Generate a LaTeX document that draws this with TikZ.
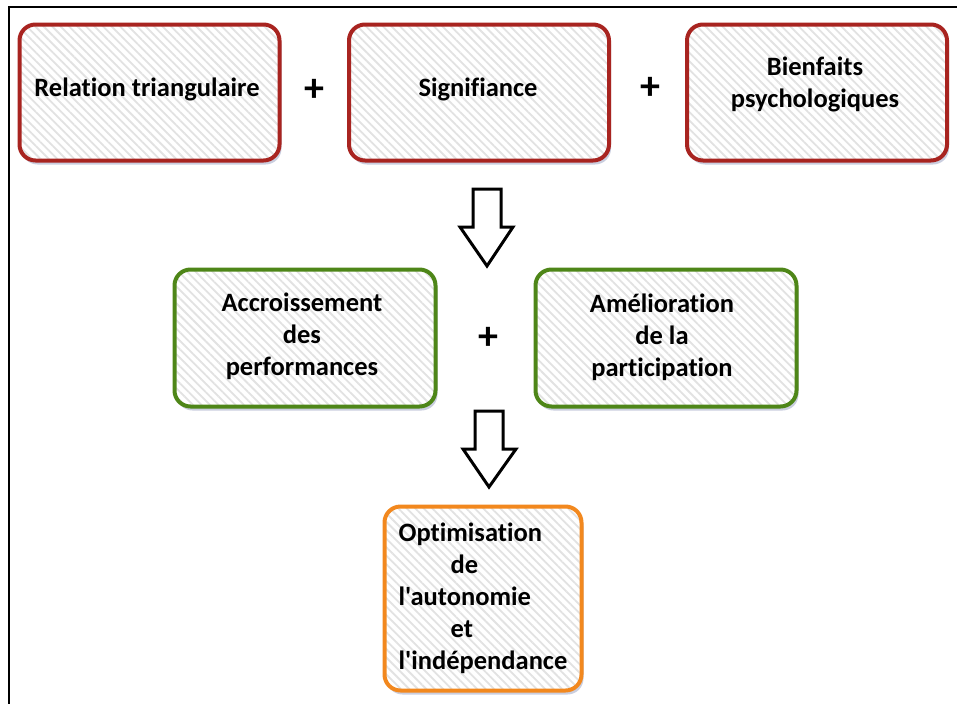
\documentclass[tikz,border=0pt]{standalone}
\usepackage{fontspec}
\setmainfont{Carlito}[Ligatures={CommonOff,TeXOff}]
\usetikzlibrary{patterns.meta,shadows}
\definecolor{boxred}{RGB}{168,36,32}
\definecolor{boxgreen}{RGB}{78,134,24}
\definecolor{boxorange}{RGB}{242,136,30}
\definecolor{stripe}{RGB}{226,226,226}
\definecolor{shadowblue}{RGB}{150,158,192}
\tikzset{
  box/.style={rounded corners=16pt,
    drop shadow={shadow xshift=2pt, shadow yshift=-4pt, opacity=0.5, fill=shadowblue},
    preaction={fill=white},
    pattern={Lines[angle=-45,distance=6pt,line width=1.8pt]}, pattern color=stripe,
    inner sep=0pt},
  redbox/.style={box, postaction={draw=boxred, line width=4pt}, minimum width=260pt, minimum height=136pt},
  greenbox/.style={box, postaction={draw=boxgreen, line width=4pt}, minimum width=261pt, minimum height=137pt},
  orangebox/.style={box, postaction={draw=boxorange, line width=4pt}, minimum width=197pt, minimum height=184pt},
  lbl/.style={font=\fontsize{26.5}{32}\selectfont\bfseries, align=center, inner sep=0pt, text=black},
  plussign/.style={font=\fontsize{40}{40}\selectfont\bfseries, inner sep=0pt},
  blockarrow/.style={draw=black, fill=white, line width=3pt, line join=miter},
  frame/.style={draw=black, line width=1.5pt}
}
\begin{document}
\begin{tikzpicture}[x=1pt,y=-1pt]
\useasboundingbox (0,0) rectangle (957,704);
\draw[frame] (957,7) -- (9,7) -- (9,704);

% top row
\node[redbox] (b1) at (149.5,92.5) {};
\node[redbox] (b2) at (479,92.5) {};
\node[redbox] (b3) at (817,92.5) {};
\node[lbl] (t1) at (147,89) {Relation triangulaire};
\node[lbl] (t2) at (478,89) {Signifiance};
\node[lbl] (t3) at (815,84.5) {Bienfaits\\psychologiques};
\node[plussign] (p1) at (314,90) {+};
\node[plussign] (p2) at (650,88) {+};

% arrow 1
\coordinate (a1) at (487,189);
\draw[blockarrow] ([xshift=-14pt]a1) -- ([xshift=14pt]a1) -- ([xshift=14pt,yshift=-38pt]a1)
  -- ([xshift=26pt,yshift=-38pt]a1) -- ([yshift=-77pt]a1) -- ([xshift=-27pt,yshift=-38pt]a1)
  -- ([xshift=-14pt,yshift=-38pt]a1) -- cycle;

% middle row
\node[greenbox] (g1) at (305,338) {};
\node[greenbox] (g2) at (666,338) {};
\node[lbl] (t4) at (302,336) {Accroissement\\des\\performances};
\node[lbl] (t5) at (662,337) {Amélioration\\de la\\participation};
\node[plussign] (p3) at (488,338) {+};

% arrow 2
\coordinate (a2) at (489,411);
\draw[blockarrow] ([xshift=-14pt]a2) -- ([xshift=14pt]a2) -- ([xshift=14pt,yshift=-38pt]a2)
  -- ([xshift=27pt,yshift=-38pt]a2) -- ([yshift=-76pt]a2) -- ([xshift=-26pt,yshift=-38pt]a2)
  -- ([xshift=-14pt,yshift=-38pt]a2) -- cycle;

% bottom
\node[orangebox] (o1) at (483,598.5) {};
\node[lbl, align=left] (t6) at (483,598.5) {Optimisation\\\hspace{52pt}de\\l'autonomie\\\hspace{52pt}et\\l'indépendance};
\end{tikzpicture}
\end{document}
